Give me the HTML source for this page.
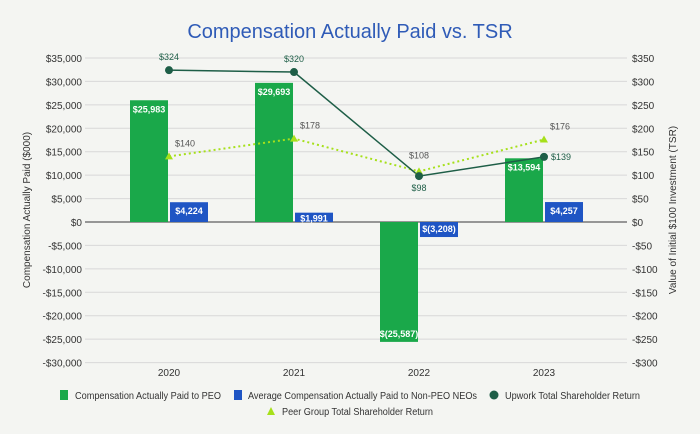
<!DOCTYPE html>
<html><head><meta charset="utf-8"><style>
body{margin:0;background:#f4f5f2;font-family:"Liberation Sans",sans-serif}
svg{display:block}
</style></head><body>
<svg id="c" width="700" height="434" xmlns="http://www.w3.org/2000/svg">
<rect width="700" height="434" fill="#f4f5f2"/>
<text x="350" y="38" text-anchor="middle" font-size="20" fill="#2f5bb7">Compensation Actually Paid vs. TSR</text>
<text transform="translate(30,210) rotate(-90)" text-anchor="middle" font-size="10" fill="#333">Compensation Actually Paid ($000)</text>
<text transform="translate(676,210) rotate(-90)" text-anchor="middle" font-size="10" fill="#333">Value of Initial $100 Investment (TSR)</text>
<g id="grid"></g><g id="bars"></g><g id="lines"></g>
<g font-size="10" fill="#333">
<rect x="60" y="390" width="8" height="10" fill="#1aa84a"/>
<text x="75" y="399" textLength="146" lengthAdjust="spacingAndGlyphs">Compensation Actually Paid to PEO</text>
<rect x="234" y="390" width="8" height="10" fill="#1f55c4"/>
<text x="248" y="399" textLength="229" lengthAdjust="spacingAndGlyphs">Average Compensation Actually Paid to Non-PEO NEOs</text>
<circle cx="494" cy="395" r="4.5" fill="#1e5e47"/>
<text x="505" y="399" textLength="135" lengthAdjust="spacingAndGlyphs">Upwork Total Shareholder Return</text>
<polygon points="267,415 271,407 275,415" fill="#a6e01a"/>
<text x="282" y="415" textLength="151" lengthAdjust="spacingAndGlyphs">Peer Group Total Shareholder Return</text>
</g>
</svg>
<script>
const categories=["2020","2021","2022","2023"];
const peo=[25983,29693,-25587,13594];
const neo=[4224,1991,-3208,4257];
const upwork=[324,320,98,139];
const peer=[140,178,108,176];
const leftTicks=[35000,30000,25000,20000,15000,10000,5000,0,-5000,-10000,-15000,-20000,-25000,-30000];
const rightTicks=[350,300,250,200,150,100,50,0,-50,-100,-150,-200,-250,-300];
const NS="http://www.w3.org/2000/svg";
const y0=222,pxPer=164/35000;
const yL=v=>y0-v*pxPer;
const yR=v=>y0-v*164/350;
const xC=i=>169+125*i;
function mk(t,a,p){const e=document.createElementNS(NS,t);for(const k in a)e.setAttribute(k,a[k]);p.appendChild(e);return e;}
const fmt=v=>{const s=Math.abs(v).toLocaleString('en-US');return v<0?'$('+s+')':'$'+s;};
const fmtL=v=>(v<0?'-$':'$')+Math.abs(v).toLocaleString('en-US');
const fmtR=v=>(v<0?'-$':'$')+Math.abs(v);
const grid=document.getElementById('grid');
leftTicks.forEach((t,i)=>{
 const y=yL(t);
 const l=mk('line',{x1:85,x2:627,y1:y,y2:y,stroke:t===0?'#777':'#d8d8d8','stroke-width':t===0?1.5:1},grid);
 
 
 const tx=mk('text',{x:82,y:y+4,'text-anchor':'end','font-size':10,fill:'#333'},grid);tx.textContent=fmtL(t);
 
 
});
rightTicks.forEach(t=>{
 const tx=mk('text',{x:632,y:yR(t)+4,'font-size':10,fill:'#333'},grid);tx.textContent=fmtR(t);
 
 
});
categories.forEach((c,i)=>{
 const tx=mk('text',{x:xC(i),y:376,'text-anchor':'middle','font-size':10,fill:'#333'},grid);tx.textContent=c;
 
 
});
const bars=document.getElementById('bars');
function bar(i,v,off,col,name){
 const x=xC(i)+off,y1=Math.min(yL(v),y0),h=Math.abs(yL(v)-y0);
 const r=mk('rect',{x:x,y:y1,width:38,height:h,fill:col},bars);
 
 
 const ty=v>=0?Math.min(y1+12,y1+h/2+4):y1+h-5;
 const t=mk('text',{x:x+19,y:ty,'text-anchor':'middle','font-size':9,'font-weight':'bold',fill:'#fff'},bars);t.textContent=fmt(v);
 
 
}
categories.forEach((c,i)=>{bar(i,peo[i],-39,'#1aa84a','bar-peo-'+c);bar(i,neo[i],1,'#1f55c4','bar-neo-'+c);});
const lines=document.getElementById('lines');
const pl=mk('polyline',{points:peer.map((v,i)=>xC(i)+','+yR(v)).join(' '),fill:'none',stroke:'#a6e01a','stroke-width':2,'stroke-dasharray':'2,3'},lines);


const ul=mk('polyline',{points:upwork.map((v,i)=>xC(i)+','+yR(v)).join(' '),fill:'none',stroke:'#1e5e47','stroke-width':1.5},lines);


peer.forEach((v,i)=>{
 const x=xC(i),y=yR(v);
 const p=mk('polygon',{points:`${x-4},${y+3} ${x},${y-4} ${x+4},${y+3}`,fill:'#a6e01a'},lines);
 
 
 const lx=i===2?x:x+6,ly=i===2?y-13:y-10;
 const t=mk('text',{x:lx,y:ly,'text-anchor':i===2?'middle':'start','font-size':9,fill:'#555'},lines);t.textContent='$'+v;
 
 
});
upwork.forEach((v,i)=>{
 const x=xC(i),y=yR(v);
 const c=mk('circle',{cx:x,cy:y,r:4,fill:'#1e5e47'},lines);
 
 
 let lx=x,ly=y-10,a='middle';
 if(i===2){ly=y+15;} if(i===3){lx=x+7;ly=y+3;a='start';}
 const t=mk('text',{x:lx,y:ly,'text-anchor':a,'font-size':9,fill:'#1e5e47'},lines);t.textContent='$'+v;
 
 
});
</script>
</body></html>
